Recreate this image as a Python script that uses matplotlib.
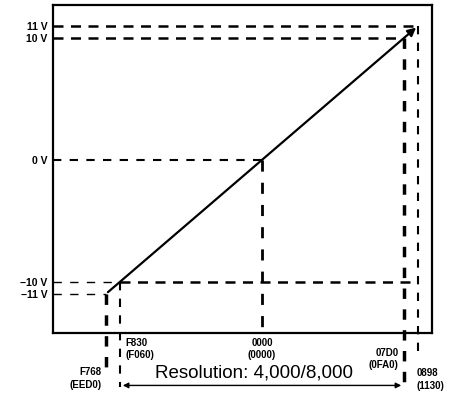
import matplotlib
matplotlib.use("Agg")
import matplotlib.pyplot as plt

codes = ["F768", "F830", "0000", "07D0", "0898"]
codes8k = ["EED0", "F060", "0000", "0FA0", "1130"]
code_values = [-2200, -2000, 0, 2000, 2200]
volt_labels = ["\u221211 V", "\u221210 V", "0 V", "10 V", "11 V"]
volts = [-11, -10, 0, 10, 11]
resolution_text = "Resolution: 4,000/8,000"

plt.rcParams['font.family'] = ['Liberation Sans', 'DejaVu Sans']
fig = plt.figure(figsize=(4.57, 4.0), dpi=100)
ax = fig.add_axes([53/457, 1-333/400, (432-53)/457, (333-5)/400])
xmin, xmax = -2944, 2394
ymin, ymax = -14.2, 12.7
ax.set_xlim(xmin, xmax)
ax.set_ylim(ymin, ymax)
for s in ax.spines.values():
    s.set_linewidth(1.6)
ax.set_xticks([])
ax.set_yticks(volts)
ax.set_yticklabels(volt_labels, fontsize=7.5, fontweight='bold')
ax.tick_params(axis='y', length=0, pad=4)

# main line with arrow
ax.annotate("", xy=(code_values[-1], volts[-1]), xytext=(code_values[0], volts[0]),
            arrowprops=dict(arrowstyle='-|>', lw=1.6, color='black', mutation_scale=12))

# horizontal dashed lines
hstyle = {-11: (1.0, (6, 6)), -10: (1.0, (6, 6)), 0: (1.5, (4, 4)), 10: (1.8, (4, 3)), 11: (1.8, (4, 3))}
for v, c in zip(volts, code_values):
    lw, ds = hstyle[v]
    ax.plot([xmin, c], [v, v], color='black', lw=lw, linestyle=(0, ds), clip_on=False)
# -10 V continues to the right edge of the range
ax.plot([code_values[1], code_values[-1]], [volts[1], volts[1]], color='black', lw=1.8,
        linestyle=(0, (4, 3)))

# vertical dashed lines (extend below axes)
vinfo = {-2200: (2.5, -17.3), -2000: (1.5, -18.6), 0: (2.0, ymin), 2000: (2.5, -18.2), 2200: (1.5, -16.0)}
for v, c in zip(volts, code_values):
    lw, yend = vinfo[c]
    ds = (3, 3) if lw > 2 else (4, 4)
    ax.plot([c, c], [v, yend], color='black', lw=lw, linestyle=(0, ds), clip_on=False)

# code labels
def lab(i):
    return f"{codes[i]}\n({codes8k[i]})"
fs = 7
ax.text(code_values[0] - 60, -17.0, lab(0), ha='right', va='top', fontsize=fs, fontweight='bold', linespacing=1.3)
ax.text(code_values[1] + 80, -14.6, lab(1), ha='left', va='top', fontsize=fs, fontweight='bold', linespacing=1.3)
ax.text(code_values[2], -14.6, lab(2), ha='center', va='top', fontsize=fs, fontweight='bold', linespacing=1.3)
ax.text(code_values[3] - 80, -15.4, lab(3), ha='right', va='top', fontsize=fs, fontweight='bold', linespacing=1.3)
ax.text(code_values[4] - 20, -17.1, lab(4), ha='left', va='top', fontsize=fs, fontweight='bold', linespacing=1.3)

# resolution arrow
ya = -18.5
ax.annotate("", xy=(code_values[1], ya), xytext=(code_values[3], ya),
            arrowprops=dict(arrowstyle='<|-|>', lw=1.0, color='black', mutation_scale=8),
            annotation_clip=False)
ax.text(-110, ya + 0.35, resolution_text, ha='center', va='bottom', fontsize=13.5)

fig.savefig("out.png", dpi=100)
